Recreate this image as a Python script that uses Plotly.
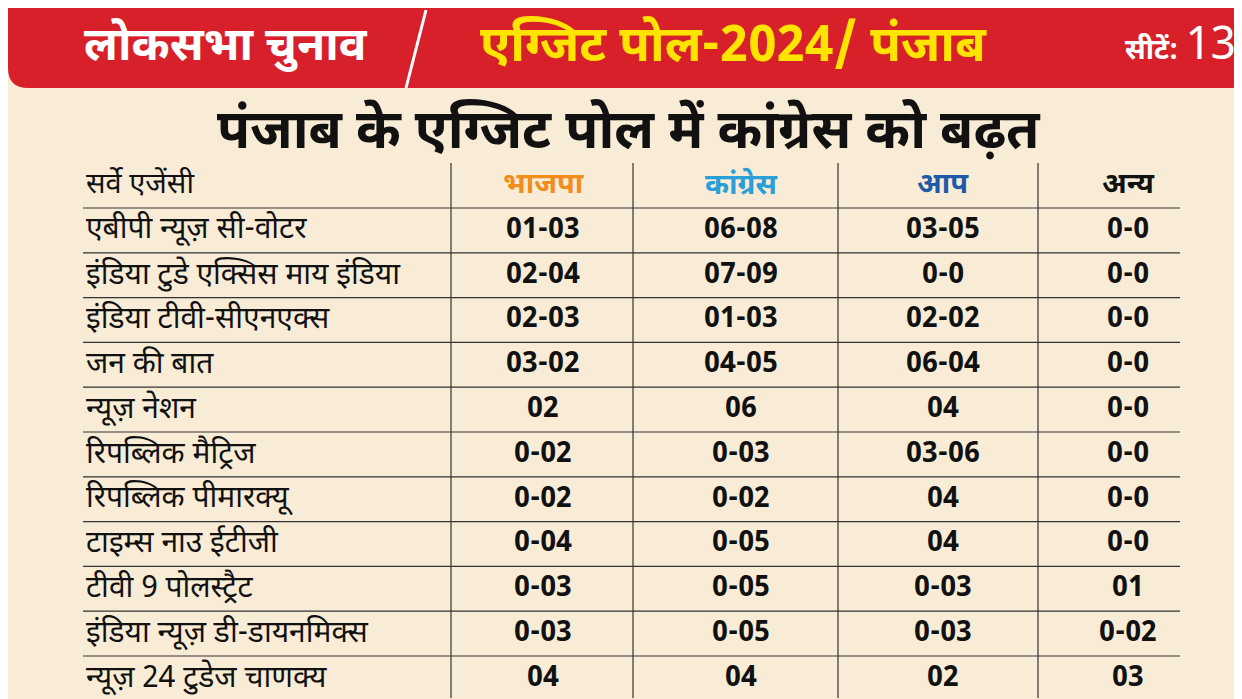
import plotly.graph_objects as go

agencies = ["एबीपी न्यूज़ सी-वोटर","इंडिया टुडे एक्सिस माय इंडिया","इंडिया टीवी-सीएनएक्स","जन की बात","न्यूज़ नेशन",
            "रिपब्लिक मैट्रिज","रिपब्लिक पीमारक्यू","टाइम्स नाउ ईटीजी","टीवी 9 पोलस्ट्रैट","इंडिया न्यूज़ डी-डायनमिक्स","न्यूज़ 24 टुडेज चाणक्य"]
bjp = ["01-03","02-04","02-03","03-02","02","0-02","0-02","0-04","0-03","0-03","04"]
congress = ["06-08","07-09","01-03","04-05","06","0-03","0-02","0-05","0-05","0-05","04"]
aap = ["03-05","0-0","02-02","06-04","04","03-06","04","04","0-03","0-03","02"]
others = ["0-0","0-0","0-0","0-0","0-0","0-0","0-0","0-0","01","0-02","03"]
headers = ["सर्वे एजेंसी","भाजपा","कांग्रेस","आप","अन्य"]
header_colors = ["#111","#f28c1c","#2a9fd8","#1f5aa8","#111"]

F = "Noto Sans Devanagari, Noto Sans, sans-serif"
fig = go.Figure()
fig.update_xaxes(range=[0,1242], visible=False, fixedrange=True)
fig.update_yaxes(range=[699,0], visible=False, fixedrange=True)
shapes = []
ann = []
shapes.append(dict(type="path", path="M0,0 L1242,0 L1242,60 Q1242,80 1222,80 L20,80 Q0,80 0,60 Z",
                   fillcolor="#d8202a", line=dict(width=0), layer="below"))
shapes.append(dict(type="line", x0=398, y0=80, x1=418, y1=2, line=dict(color="white", width=3)))
ann.append(dict(x=218, y=40, text="<b>लोकसभा चुनाव</b>", font=dict(size=46, color="white", family=F), showarrow=False))
ann.append(dict(x=725, y=40, text="<b>एग्जिट पोल-2024/ पंजाब</b>", font=dict(size=50, color="#ffe400", family=F), showarrow=False))
ann.append(dict(x=1172, y=40, text="<b>सीटें:</b> <span style='font-size:46px'>13</span>", font=dict(size=28, color="white", family=F), showarrow=False))
ann.append(dict(x=621, y=126, text="<b>पंजाब के एग्जिट पोल में कांग्रेस को बढ़त</b>", font=dict(size=54, color="#111", family=F), showarrow=False))

xs = [76, 535, 733, 935, 1120]
row_y0 = 178; step = 44.8
for j, h in enumerate(headers):
    ann.append(dict(x=xs[j], y=row_y0, text="<b>"+h+"</b>" if j else h, xanchor="left" if j == 0 else "center",
                    font=dict(size=29, color=header_colors[j], family=F), showarrow=False))
cols = [agencies, bjp, congress, aap, others]
for i in range(len(agencies)):
    y = row_y0 + step*(i+1)
    for j, c in enumerate(cols):
        ann.append(dict(x=xs[j], y=y, text="<b>"+c[i]+"</b>" if j else c[i], xanchor="left" if j == 0 else "center",
                        font=dict(size=30 if j == 0 else 28, color="#111", family=F), showarrow=False))
for k in range(11):
    y = 200 + step*k
    shapes.append(dict(type="line", x0=75, x1=1172, y0=y, y1=y, line=dict(color="#333", width=1.2)))
for xv in [443, 625, 830, 1030]:
    shapes.append(dict(type="line", x0=xv, x1=xv, y0=155, y1=690, line=dict(color="#333", width=1.2)))

fig.update_layout(width=1242, height=699, margin=dict(l=0,r=0,t=0,b=0),
                  paper_bgcolor="#f8ecd6", plot_bgcolor="#f8ecd6", shapes=shapes, annotations=ann, showlegend=False)
fig.write_html("out.html", config={"displayModeBar": False})
